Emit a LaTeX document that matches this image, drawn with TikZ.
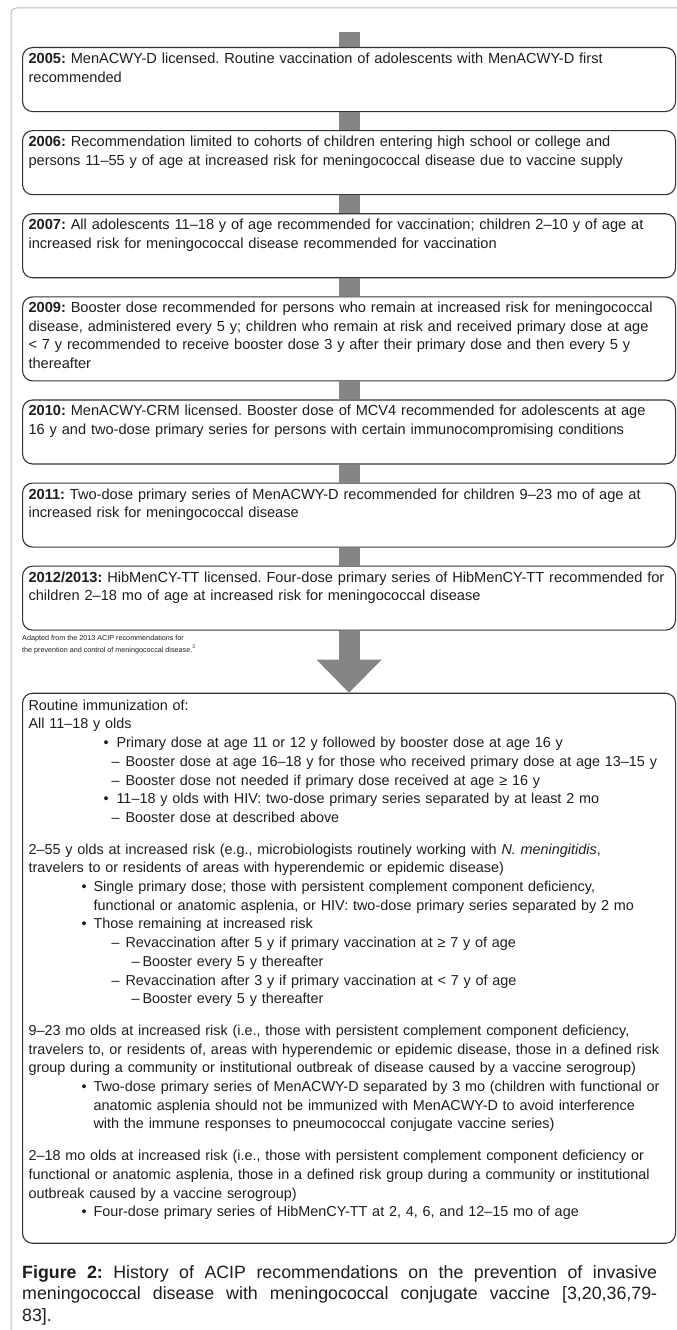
\documentclass[tikz,border=0pt]{standalone}
\usepackage{fontspec}
\setmainfont{Liberation Sans}
\usetikzlibrary{positioning,arrows.meta}
\definecolor{boxline}{HTML}{333333}
\definecolor{linkgray}{HTML}{858585}
\definecolor{framegray}{HTML}{BDBDBD}
\definecolor{txt}{HTML}{1E1E1E}
\tikzstyle{event} = [rectangle, rounded corners=10pt, draw=boxline, line width=1.1pt, text width=641pt, align=left, inner xsep=6pt, inner ysep=6pt, text height=10pt, text depth=42pt, text=txt, font=\fontsize{14.6}{18.5}\selectfont]
\tikzstyle{link} = [draw=linkgray, line width=21pt]
\tikzstyle{bigarrow} = [draw=linkgray, line width=21pt, -{Triangle[width=65pt,length=33pt,line width=0pt]}]
\newcommand{\bulA}[1]{\hspace*{75pt}\makebox[13pt][l]{\textbullet}\mbox{#1}}
\newcommand{\bul}[1]{\hspace*{53pt}\makebox[12pt][l]{\textbullet}\mbox{#1}}
\newcommand{\cnt}[1]{\hspace*{65pt}\mbox{#1}}
\newcommand{\dsh}[1]{\hspace*{83pt}\makebox[14pt][l]{–}\mbox{#1}}
\newcommand{\ddsh}[1]{\hspace*{103pt}\makebox[11pt][l]{–}\mbox{#1}}
\frenchspacing

\begin{document}
\begin{tikzpicture}[x=1pt, y=-1pt]
        \useasboundingbox (0,0) rectangle (677,1330);
        \clip (0,0) rectangle (677,1330);
        \draw [framegray, line width=1pt, rounded corners=5pt] (11,1340) -- (11,8) -- (700,8);

        \node (y2005) [event, anchor=north west] at (22,47) {\textbf{2005:} MenACWY-D licensed. Routine vaccination of adolescents with MenACWY-D first\\ recommended};
        \node (y2006) [event, below=18pt of y2005] {\textbf{2006:} Recommendation limited to cohorts of children entering high school or college and\\ persons 11–55 y of age at increased risk for meningococcal disease due to vaccine supply};
        \node (y2007) [event, below=18pt of y2006] {\textbf{2007:} All adolescents 11–18 y of age recommended for vaccination; children 2–10 y of age at\\ increased risk for meningococcal disease recommended for vaccination};
        \node (y2009) [event, below=18pt of y2007, text depth=62pt] {\textbf{2009:} Booster dose recommended for persons who remain at increased risk for meningococcal\\ disease, administered every 5 y; children who remain at risk and received primary dose at age\\ < 7 y recommended to receive booster dose 3 y after their primary dose and then every 5 y\\ thereafter};
        \node (y2010) [event, below=18pt of y2009] {\textbf{2010:} MenACWY-CRM licensed. Booster dose of MCV4 recommended for adolescents at age\\ 16 y and two-dose primary series for persons with certain immunocompromising conditions};
        \node (y2011) [event, below=18pt of y2010] {\textbf{2011:} Two-dose primary series of MenACWY-D recommended for children 9–23 mo of age at\\ increased risk for meningococcal disease};
        \node (y2012) [event, below=18pt of y2011] {\textbf{2012/2013:} HibMenCY-TT licensed. Four-dose primary series of HibMenCY-TT recommended for\\ children 2–18 mo of age at increased risk for meningococcal disease};

        \node (routine) [event, below=62pt of y2012, inner ysep=7pt, text depth=526pt, font=\fontsize{14.4}{18.7}\selectfont] {Routine immunization of:\\
All 11–18 y olds\\
\bulA{Primary dose at age 11 or 12 y followed by booster dose at age 16 y}\\
\dsh{Booster dose at age 16–18 y for those who received primary dose at age 13–15 y}\\
\dsh{Booster dose not needed if primary dose received at age ≥ 16 y}\\
\bulA{11–18 y olds with HIV: two-dose primary series separated by at least 2 mo}\\
\dsh{Booster dose at described above}\\[13pt]
2–55 y olds at increased risk (e.g., microbiologists routinely working with \textit{N. meningitidis},\\
travelers to or residents of areas with hyperendemic or epidemic disease)\\
\bul{Single primary dose; those with persistent complement component deficiency,}\\
\cnt{functional or anatomic asplenia, or HIV: two-dose primary series separated by 2 mo}\\
\bul{Those remaining at increased risk}\\
\dsh{Revaccination after 5 y if primary vaccination at ≥ 7 y of age}\\
\ddsh{Booster every 5 y thereafter}\\
\dsh{Revaccination after 3 y if primary vaccination at < 7 y of age}\\
\ddsh{Booster every 5 y thereafter}\\[13pt]
9–23 mo olds at increased risk (i.e., those with persistent complement component deficiency,\\
travelers to, or residents of, areas with hyperendemic or epidemic disease, those in a defined risk\\
group during a community or institutional outbreak of disease caused by a vaccine serogroup)\\
\bul{Two-dose primary series of MenACWY-D separated by 3 mo (children with functional or}\\
\cnt{anatomic asplenia should not be immunized with MenACWY-D to avoid interference}\\
\cnt{with the immune responses to pneumococcal conjugate vaccine series)}\\[13pt]
2–18 mo olds at increased risk (i.e., those with persistent complement component deficiency or\\
functional or anatomic asplenia, those in a defined risk group during a community or institutional\\
outbreak caused by a vaccine serogroup)\\
\bul{Four-dose primary series of HibMenCY-TT at 2, 4, 6, and 12–15 mo of age}};

        % connectors
        \coordinate (stub) at (y2005.north |- 0,32);
        \draw [link] (stub) -- (y2005.north);
        \draw [link] (y2005.south) -- (y2006.north);
        \draw [link] (y2006.south) -- (y2007.north);
        \draw [link] (y2007.south) -- (y2009.north);
        \draw [link] (y2009.south) -- (y2010.north);
        \draw [link] (y2010.south) -- (y2011.north);
        \draw [link] (y2011.south) -- (y2012.north);
        \draw [bigarrow] (y2012.south) -- (routine.north);

        \node (note) [anchor=base west, align=left, inner sep=0pt, text=txt, font=\fontsize{7.2}{11.5}\selectfont] at (22,652) {Adapted from the 2013 ACIP recommendations for\\ the prevention and control of meningococcal disease.\textsuperscript{3}};
        \node (caption) [anchor=base west, text width=635pt, align=justify, inner sep=0pt, text=txt, font=\fontsize{17.8}{21.5}\selectfont] at (22,1278) {\textbf{Figure 2:} History of ACIP recommendations on the prevention of invasive\linebreak meningococcal disease with meningococcal conjugate vaccine [3,20,36,79-\linebreak 83].};
    \end{tikzpicture}
\end{document}
